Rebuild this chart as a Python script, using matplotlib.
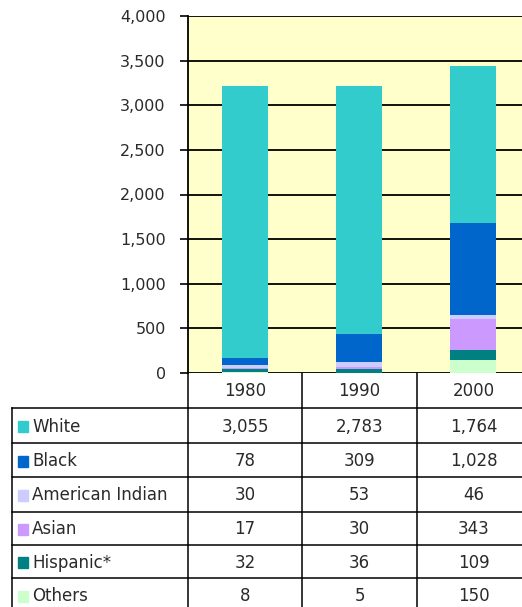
import numpy as np
import matplotlib
matplotlib.use("Agg")
import matplotlib.pyplot as plt
from matplotlib.patches import Rectangle

plt.rcParams['font.family'] = ['DejaVu Sans']

# data
years = ['1980', '1990', '2000']
groups = ['White', 'Black', 'American Indian', 'Asian', 'Hispanic*', 'Others']
white = [3055, 2783, 1764]
black = [78, 309, 1028]
am_indian = [30, 53, 46]
asian = [17, 30, 343]
hispanic = [32, 36, 109]
others = [8, 5, 150]
series = [white, black, am_indian, asian, hispanic, others]
colors = ['#33CCCC', '#0066CC', '#CCCCFF', '#CC99FF', '#008080', '#CCFFCC']
yticks = [0, 500, 1000, 1500, 2000, 2500, 3000, 3500, 4000]

W, H = 522, 607
fs = 12
tc = '#2a2a2a'
fig = plt.figure(figsize=(W / 100, H / 100), dpi=100)
fig.patch.set_facecolor('white')

# plot area in pixels
left, right, top, bottom = 188, 530, 16, 373
ax = fig.add_axes([left / W, 1 - bottom / H, (right - left) / W, (bottom - top) / H])
ax.set_facecolor('#FFFFCC')
x = np.arange(len(years))

# stack from the bottom: Others, Hispanic, Asian, American Indian, Black, White
base = np.zeros(len(years))
for vals, c in list(zip(series, colors))[::-1]:
    ax.bar(x, vals, bottom=base, width=0.4, color=c, zorder=3)
    base += np.array(vals)

ax.set_xlim(-0.5, 2.5)
ax.set_ylim(0, 4000)
ax.set_yticks(yticks)
ax.set_yticklabels([f'{v:,}' for v in yticks], fontsize=fs - 0.5, color=tc)
ax.set_xticks([])
for v in yticks:
    ax.axhline(v, color='black', lw=1.3, zorder=2)
ax.tick_params(axis='y', length=6, width=1.2, pad=10)
for s in ['top', 'right', 'bottom']:
    ax.spines[s].set_visible(False)
ax.spines['left'].set_linewidth(1.3)

# data table below, drawn in pixel coords
tb = fig.add_axes([0, 0, 1, 1], facecolor='none')
tb.set_xlim(0, W)
tb.set_ylim(H, 0)
tb.axis('off')

col_x = [12, 188, 302, 417, 531]
row_y = [373, 408, 443, 477, 512, 545, 578, 612]
lw = 1.1
# header row
tb.plot([188, W], [row_y[1]] * 2, color='black', lw=lw)
for cx in col_x[1:4]:
    tb.plot([cx, cx], [row_y[0], H], color='black', lw=lw)
tb.plot([12, 12], [row_y[1], H], color='black', lw=lw)
for ry in row_y[2:7]:
    tb.plot([12, W], [ry, ry], color='black', lw=lw)
tb.plot([12, 188], [row_y[1], row_y[1]], color='black', lw=lw)

for j, yr in enumerate(years):
    cx = (col_x[j + 1] + col_x[j + 2]) / 2
    tb.text(cx, (row_y[0] + row_y[1]) / 2 + 1, yr, ha='center', va='center',
            fontsize=fs, color=tc)

for i, (name, vals, c) in enumerate(zip(groups, series, colors)):
    cy = (row_y[i + 1] + row_y[i + 2]) / 2 + 1
    tb.add_patch(Rectangle((18, cy - 5.5), 10, 11, color=c))
    tb.text(32, cy, name, ha='left', va='center', fontsize=fs, color=tc)
    for j, v in enumerate(vals):
        cx = (col_x[j + 1] + col_x[j + 2]) / 2
        tb.text(cx, cy, f'{v:,}', ha='center', va='center', fontsize=fs,
                color=tc)

fig.savefig('out.png', dpi=100)
